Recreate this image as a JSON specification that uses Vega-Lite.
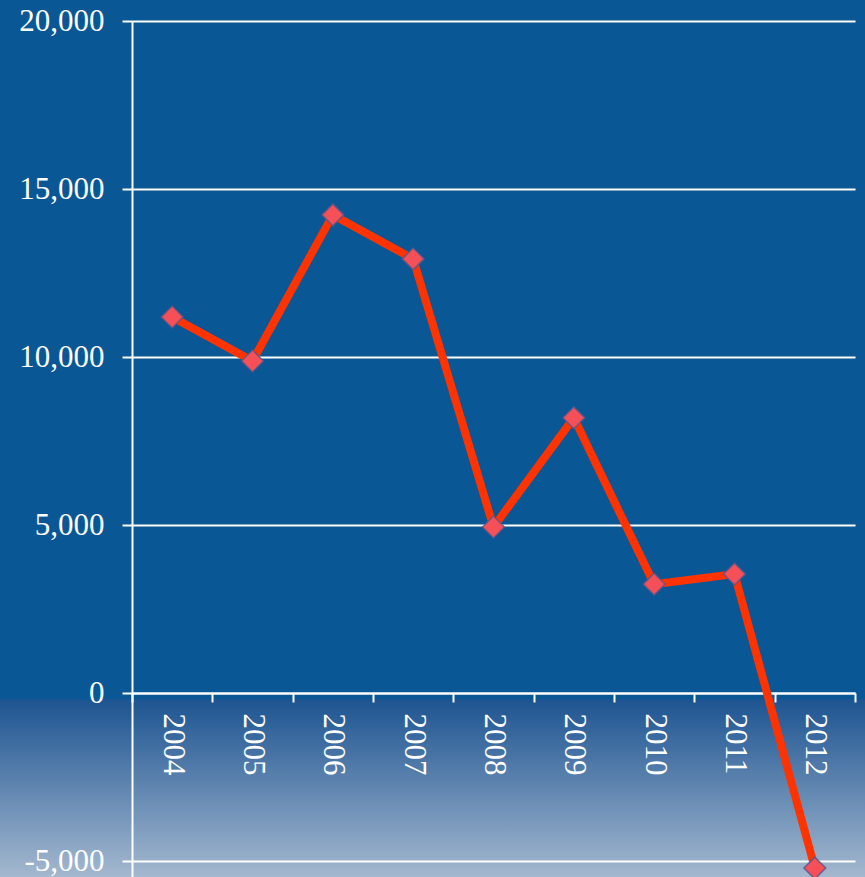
{
  "$schema": "https://vega.github.io/schema/vega-lite/v6.json",
  "width": 865,
  "height": 877,
  "autosize": {"type": "none"},
  "padding": 0,
  "background": "#0a5795",
  "view": {
    "stroke": null,
    "fill": {
      "gradient": "linear",
      "x1": 0, "y1": 0, "x2": 0, "y2": 1,
      "stops": [
        {"offset": 0, "color": "#0a5795"},
        {"offset": 0.796, "color": "#0a5795"},
        {"offset": 0.799, "color": "#1e5592"},
        {"offset": 1, "color": "#a4b8cf"}
      ]
    }
  },
  "data": {
    "values": [
      {"year": "2004", "value": 11190},
      {"year": "2005", "value": 9880},
      {"year": "2006", "value": 14230},
      {"year": "2007", "value": 12920},
      {"year": "2008", "value": 4940},
      {"year": "2009", "value": 8190},
      {"year": "2010", "value": 3240},
      {"year": "2011", "value": 3540},
      {"year": "2012", "value": -5210}
    ]
  },
  "mark": {
    "type": "line",
    "color": "#ff3300",
    "strokeWidth": 8,
    "clip": false,
    "point": {
      "shape": "diamond",
      "size": 480,
      "filled": true,
      "fill": "#f54f57",
      "stroke": "#53588c",
      "strokeWidth": 1.5,
      "strokeOpacity": 0.8,
      "opacity": 1
    }
  },
  "encoding": {
    "x": {
      "field": "year",
      "type": "ordinal",
      "scale": {"type": "band", "range": [132, 855], "paddingInner": 0, "paddingOuter": 0},
      "axis": {
        "title": null,
        "orient": "bottom",
        "offset": -184,
        "tickBand": "extent",
        "labelAngle": 90,
        "labelAlign": "left",
        "labelBaseline": "middle",
        "labelPadding": 11,
        "labelFont": "Liberation Serif",
        "labelFontSize": 31,
        "labelColor": "#ffffff",
        "domainColor": "#ffffff",
        "domainWidth": 2,
        "tickColor": "#ffffff",
        "tickWidth": 2,
        "tickSize": 9,
        "grid": false
      }
    },
    "y": {
      "field": "value",
      "type": "quantitative",
      "scale": {"domain": [-5476, 20000], "range": [877, 21], "nice": false, "zero": false},
      "axis": {
        "title": null,
        "orient": "left",
        "offset": -132,
        "values": [-5000, 0, 5000, 10000, 15000, 20000],
        "labelExpr": "replace(format(datum.value, ',.0f'), '\u2212', '-')",
        "labelFont": "Liberation Serif",
        "labelFontSize": 31,
        "labelColor": "#ffffff",
        "labelPadding": 18,
        "domainColor": "#ffffff",
        "domainWidth": 2,
        "tickColor": "#ffffff",
        "tickWidth": 2,
        "tickSize": 10,
        "grid": true,
        "gridColor": "#ffffff",
        "gridWidth": 2,
        "gridOpacity": 1
      }
    }
  }
}
